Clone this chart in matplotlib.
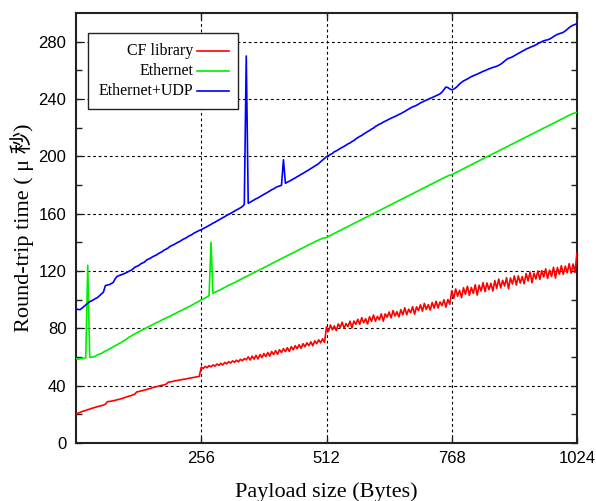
import numpy as np
import matplotlib
matplotlib.use("Agg")
import matplotlib.pyplot as plt
from matplotlib.patches import Rectangle

# ---------------- data (payload size step 4 bytes) ----------------
payload = np.arange(0, 1025, 4)

cf_library = [
    20.0, 20.8, 21.3, 21.9, 22.4, 22.7, 23.3, 23.6, 24.2, 24.5, 25.0, 25.3, 25.8, 26.0, 26.5, 27.0,
    28.8, 29.0, 29.2, 29.5, 29.7, 30.2, 30.4, 30.9, 31.2, 31.8, 32.1, 32.7, 33.0, 33.6, 34.0, 35.6,
    35.9, 36.3, 36.5, 37.0, 37.2, 37.8, 38.0, 38.6, 38.9, 39.3, 39.6, 40.0, 40.3, 40.6, 41.0, 42.3,
    42.6, 42.8, 43.2, 43.4, 43.7, 44.0, 44.2, 44.5, 44.6, 45.0, 45.2, 45.5, 45.7, 46.0, 46.2, 46.5,
    52.9, 52.0, 53.4, 52.5, 54.0, 53.1, 54.5, 53.6, 55.1, 54.2, 55.6, 54.4, 56.2, 55.2, 56.7, 55.8,
    57.3, 56.3, 57.8, 56.6, 58.4, 57.4, 58.9, 58.0, 60.1, 57.9, 60.6, 58.5, 61.2, 58.6, 61.7, 59.6,
    62.4, 60.3, 63.1, 60.6, 63.8, 61.7, 64.5, 61.9, 65.1, 63.1, 65.8, 63.8, 66.5, 63.9, 67.2, 65.1,
    67.9, 65.8, 68.6, 66.1, 69.3, 67.2, 69.9, 67.9, 70.6, 67.8, 71.3, 69.3, 72.0, 69.9, 72.7, 70.2,
    81.0, 77.8, 82.3, 79.0, 81.7, 78.4, 83.1, 80.6, 84.3, 80.0, 83.3, 81.2, 85.0, 80.4, 85.1, 82.8,
    86.3, 82.8, 87.4, 83.9, 86.7, 83.0, 88.1, 84.9, 89.3, 85.0, 88.3, 85.9, 90.1, 85.0, 90.1, 87.7,
    91.4, 87.3, 92.4, 88.6, 91.6, 88.0, 93.0, 89.4, 94.3, 89.5, 93.3, 90.9, 95.1, 89.9, 95.0, 92.4,
    96.4, 92.0, 97.4, 93.2, 96.5, 92.7, 98.0, 94.1, 98.9, 94.2, 98.4, 95.8, 99.9, 94.8, 100.1, 96.8,
    106.2, 100.8, 107.5, 102.4, 106.5, 101.4, 108.3, 103.8, 109.4, 103.0, 108.5, 104.4, 110.4, 103.2, 110.1, 106.0,
    111.9, 105.6, 111.7, 107.0, 111.4, 106.0, 113.3, 107.9, 114.4, 108.2, 113.5, 109.5, 115.3, 107.6, 115.1, 110.9,
    116.6, 110.2, 116.6, 111.6, 116.1, 111.1, 118.2, 113.0, 119.3, 111.8, 118.5, 114.4, 120.1, 114.1, 120.3, 115.8,
    121.5, 114.8, 120.6, 116.2, 122.6, 115.1, 122.4, 117.8, 123.7, 117.6, 123.4, 118.8, 125.1, 118.5, 124.9, 119.0,
    133.0,
]

ethernet = [
    59.0, 58.4, 58.8, 59.0, 58.9, 59.6, 124.0, 59.8, 59.9, 60.1, 60.6, 61.6, 62.0, 62.5, 63.4, 64.2,
    64.6, 65.6, 66.2, 67.1, 67.9, 68.5, 69.5, 70.0, 71.0, 71.8, 72.6, 73.8, 74.4, 75.4, 76.0, 76.9,
    77.4, 78.3, 78.9, 79.6, 80.4, 81.0, 81.8, 82.4, 83.1, 83.8, 84.5, 85.1, 85.9, 86.5, 87.1, 87.9,
    88.4, 89.2, 89.9, 90.5, 91.3, 91.9, 92.6, 93.3, 94.0, 94.6, 95.4, 96.0, 96.8, 97.5, 98.3, 99.0,
    99.9, 100.6, 101.2, 102.0, 102.8, 140.0, 104.5, 105.2, 105.8, 106.5, 107.0, 107.9, 108.5, 109.3, 110.0, 110.6,
    111.3, 111.9, 112.7, 113.3, 114.1, 114.7, 115.5, 116.1, 116.8, 117.5, 118.3, 118.9, 119.6, 120.2, 121.0, 121.6,
    122.4, 123.0, 123.8, 124.4, 125.2, 125.8, 126.6, 127.2, 128.0, 128.6, 129.3, 130.0, 130.7, 131.4, 132.1, 132.7,
    133.5, 134.1, 134.9, 135.5, 136.2, 136.9, 137.7, 138.3, 139.0, 139.6, 140.4, 141.0, 141.6, 142.2, 142.8, 143.1,
    143.4, 144.2, 144.8, 145.5, 146.3, 146.9, 147.7, 148.2, 149.0, 149.8, 150.3, 151.1, 151.7, 152.5, 153.1, 153.9,
    154.5, 155.3, 155.9, 156.7, 157.3, 158.0, 158.7, 159.5, 160.1, 160.8, 161.5, 162.2, 162.8, 163.6, 164.2, 165.0,
    165.6, 166.3, 167.0, 167.8, 168.4, 169.1, 169.8, 170.5, 171.1, 171.9, 172.5, 173.3, 173.9, 174.7, 175.3, 176.0,
    176.7, 177.5, 178.1, 178.8, 179.5, 180.3, 180.8, 181.6, 182.2, 183.0, 183.6, 184.4, 185.0, 185.7, 186.3, 186.9,
    187.1, 187.9, 188.6, 189.3, 190.0, 190.6, 191.4, 192.0, 192.8, 193.4, 194.1, 194.8, 195.6, 196.2, 196.9, 197.6,
    198.3, 199.0, 199.7, 200.4, 201.0, 201.8, 202.4, 203.1, 203.8, 204.5, 205.2, 205.8, 206.6, 207.2, 208.0, 208.6,
    209.3, 210.0, 210.7, 211.4, 212.1, 212.8, 213.5, 214.1, 214.9, 215.5, 216.2, 216.9, 217.6, 218.3, 219.0, 219.7,
    220.3, 221.1, 221.7, 222.4, 223.1, 223.8, 224.5, 225.2, 225.9, 226.5, 227.3, 228.0, 228.6, 229.3, 229.9, 230.3,
    230.6,
]

ethernet_udp = [
    93.5, 93.2, 93.0, 94.0, 95.2, 96.5, 97.5, 98.6, 99.2, 100.0, 100.8, 101.5, 102.8, 104.0, 105.2, 109.8,
    110.2, 110.5, 111.2, 112.0, 114.5, 116.2, 116.8, 117.3, 117.8, 118.4, 119.0, 119.8, 120.4, 121.3, 122.6, 123.2,
    123.8, 124.9, 125.6, 126.2, 127.6, 128.3, 128.9, 129.8, 130.5, 131.1, 132.0, 132.8, 133.5, 134.6, 135.2, 136.0,
    137.1, 137.8, 138.4, 139.2, 140.0, 140.6, 141.5, 142.3, 142.9, 143.8, 144.6, 145.2, 146.2, 146.9, 147.6, 148.3,
    148.8, 149.6, 150.3, 151.0, 151.8, 152.5, 153.4, 154.0, 154.9, 155.6, 156.4, 157.2, 157.9, 158.8, 159.5, 160.2,
    161.0, 161.8, 162.6, 163.3, 164.1, 165.0, 166.4, 270.0, 167.2, 168.0, 168.8, 169.6, 170.4, 171.0, 171.9, 172.6,
    173.5, 174.2, 175.0, 175.8, 176.7, 177.3, 178.2, 178.9, 179.3, 179.8, 197.6, 181.2, 182.0, 182.6, 183.4, 184.2,
    184.9, 185.8, 186.5, 187.4, 188.1, 189.0, 189.8, 190.6, 191.5, 192.3, 193.2, 194.0, 195.0, 196.2, 197.4, 198.6,
    199.8, 200.5, 201.3, 202.0, 203.2, 203.8, 204.6, 205.5, 206.2, 207.0, 207.8, 208.7, 209.3, 210.3, 211.0, 212.2,
    213.0, 213.9, 214.6, 215.6, 216.4, 217.3, 218.0, 219.0, 219.7, 220.8, 221.6, 222.4, 223.0, 223.9, 224.5, 225.2,
    225.9, 226.6, 227.2, 227.8, 228.5, 229.2, 229.8, 230.6, 231.3, 232.2, 233.0, 233.8, 234.5, 235.0, 235.6, 236.4,
    237.3, 237.9, 238.6, 239.2, 239.8, 240.5, 241.0, 241.6, 242.3, 242.9, 243.6, 244.8, 246.5, 248.3, 248.0, 247.0,
    246.4, 246.9, 247.8, 249.0, 250.5, 251.6, 252.6, 253.3, 254.0, 254.8, 255.6, 256.2, 256.8, 257.3, 258.0, 258.6,
    259.3, 259.8, 260.4, 261.0, 261.5, 262.0, 262.4, 262.9, 263.5, 264.3, 265.3, 266.5, 267.6, 268.4, 268.8, 269.4,
    270.2, 271.0, 271.8, 272.5, 273.3, 274.0, 274.8, 275.4, 276.0, 276.6, 277.1, 277.8, 278.6, 279.3, 280.0, 280.6,
    281.0, 281.3, 281.8, 282.6, 283.5, 284.4, 285.1, 285.6, 286.0, 286.5, 287.5, 288.6, 289.8, 290.8, 291.5, 292.0,
    292.6,
]

series_names = ["CF library", "Ethernet", "Ethernet+UDP"]
series_colors = ["#ff0000", "#00ee00", "#0000ff"]
x_ticks = [256, 512, 768, 1024]
y_ticks = [0, 40, 80, 120, 160, 200, 240, 280]

assert len(cf_library) == len(payload), len(cf_library)
assert len(ethernet) == len(payload), len(ethernet)
assert len(ethernet_udp) == len(payload), len(ethernet_udp)

# ---------------- figure ----------------
fig = plt.figure(figsize=(5.96, 5.01), dpi=100)
ax = fig.add_axes([76 / 596, 58 / 501, 501 / 596, 430 / 501])

series = [cf_library, ethernet, ethernet_udp]
for vals, col in zip(series, series_colors):
    ax.plot(payload, vals, color=col, linewidth=1.2, zorder=3)

ax.set_xlim(0, 1024)
ax.set_ylim(0, 300)
ax.set_xticks(x_ticks)
ax.set_yticks(y_ticks)
ax.set_yticks(np.arange(20, 300, 40), minor=True)

tick_font = dict(family="Liberation Sans", size=12)
ax.set_xticklabels([str(t) for t in x_ticks], fontdict=tick_font)
ax.set_yticklabels([str(t) for t in y_ticks], fontdict=tick_font)

ax.tick_params(which="both", direction="in", top=True, right=True,
               length=4, width=1.0, color="#222222")
ax.tick_params(axis="y", which="major", pad=7)
ax.tick_params(axis="x", which="major", pad=6)

ax.grid(True, which="major", linestyle=(0, (2.5, 2.5)), color="black", linewidth=0.8)
ax.set_axisbelow(True)
for sp in ax.spines.values():
    sp.set_linewidth(1.5)
    sp.set_color("#222222")

ax.set_xlabel("Payload size (Bytes)", family="Liberation Serif", fontsize=16, va="center")
ax.xaxis.set_label_coords(0.5, (443 - 492) / 430)
ax.set_ylabel("Round-trip time ( μ 秒)", family=["Liberation Serif", "Noto Sans CJK JP"],
              fontsize=16, va="center")
ax.yaxis.set_label_coords((22 - 76) / 501, 0.5)

# ---------------- legend (gnuplot style: text right-aligned, sample on the right) ----------------
def ax_x(px):
    return (px - 76) / 501

def ax_y(py):
    return (443 - py) / 430

ax.add_patch(Rectangle((ax_x(88), ax_y(109)), ax_x(238) - ax_x(88), ax_y(33) - ax_y(109),
                       transform=ax.transAxes, facecolor="white", edgecolor="#222222",
                       linewidth=1.0, zorder=5))
rows = [51, 71, 91]
for name, col, ry in zip(series_names, series_colors, rows):
    ax.text(ax_x(193), ax_y(ry), name, transform=ax.transAxes, ha="right", va="center",
            family="Liberation Serif", fontsize=11.5, zorder=6)
    ax.plot([ax_x(197), ax_x(229)], [ax_y(ry), ax_y(ry)], transform=ax.transAxes,
            color=col, linewidth=1.2, zorder=6, clip_on=False)

fig.savefig("out.png", dpi=100)
